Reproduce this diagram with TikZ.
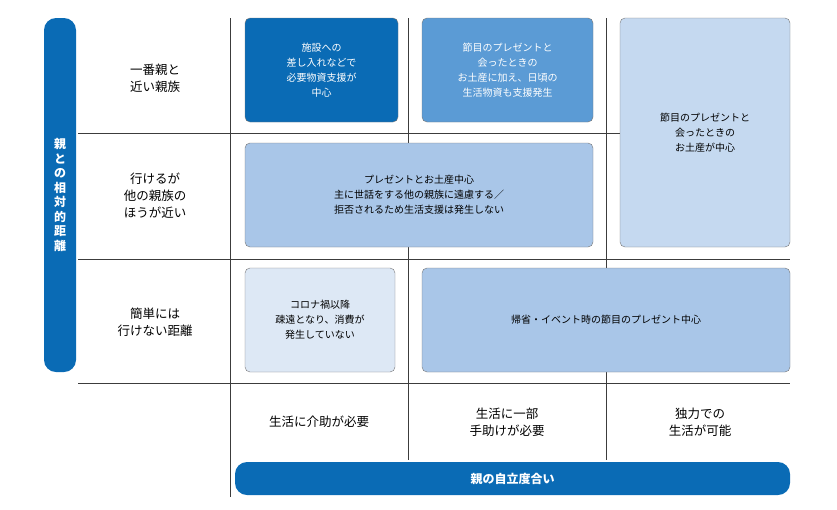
\documentclass[tikz,border=0pt]{standalone}
\usepackage{fontspec}
\setmainfont{Noto Sans CJK JP}
\definecolor{darkblue}{RGB}{10,107,181}
\definecolor{midblue}{RGB}{91,155,213}
\definecolor{paleblue}{RGB}{169,198,232}
\definecolor{lightblue}{RGB}{197,217,240}
\definecolor{faintblue}{RGB}{221,232,245}
\definecolor{gridgray}{RGB}{60,60,60}
\tikzset{
  cell/.style={draw=gridgray!70,rounded corners=5pt,align=center,font=\fontsize{10}{15}\selectfont,inner sep=0pt},
  rowlabel/.style={align=center,font=\fontsize{12.5}{17}\selectfont},
  bar/.style={fill=darkblue,rounded corners=12pt,text=white,font=\bfseries\fontsize{12}{15}\selectfont}
}
\begin{document}
\begin{tikzpicture}[x=1pt,y=-1pt]
        \useasboundingbox (0,0) rectangle (837,509);
        % grid
        \draw[gridgray] (230,18) -- (230,497);
        \draw[gridgray] (408,18) -- (408,460);
        \draw[gridgray] (606,18) -- (606,460);
        \foreach \y in {133,259,383}
          \draw[gridgray] (78,\y) -- (790,\y);

        % cells
        \node[cell,fill=darkblue,text=white,minimum width=153,minimum height=104] (care1) at (321.5,70) {施設への\\差し入れなどで\\必要物資支援が\\中心};
        \node[cell,fill=midblue,text=white,minimum width=171,minimum height=104] (help1) at (507.5,70) {節目のプレゼントと\\会ったときの\\お土産に加え、日頃の\\生活物資も支援発生};
        \node[cell,fill=lightblue,minimum width=170,minimum height=229] (self1) at (705,132.5) {節目のプレゼントと\\会ったときの\\お土産が中心};
        \node[cell,fill=paleblue,minimum width=348,minimum height=104] (row2) at (419,195) {プレゼントとお土産中心\\主に世話をする他の親族に遠慮する／\\拒否されるため生活支援は発生しない};
        \node[cell,fill=faintblue,minimum width=150,minimum height=104] (care3) at (320,320) {コロナ禍以降\\疎遠となり、消費が\\発生していない};
        \node[cell,fill=paleblue,minimum width=368,minimum height=104] (row3) at (606,320) {帰省・イベント時の節目のプレゼント中心};

        % row labels
        \node[rowlabel] (near) at (155,78) {一番親と\\近い親族};
        \node[rowlabel] (mid) at (155,196) {行けるが\\他の親族の\\ほうが近い};
        \node[rowlabel] (far) at (155,322) {簡単には\\行けない距離};

        % column labels
        \node[rowlabel] (care) at (319,422) {生活に介助が必要};
        \node[rowlabel] (help) at (507,422) {生活に一部\\手助けが必要};
        \node[rowlabel] (self) at (700,422) {独力での\\生活が可能};

        % axis bars
        \node[bar,minimum width=32,minimum height=354,inner sep=0pt] (distbar) at (60,195) {};
        \node[text=white,font=\bfseries\fontsize{12}{14.5}\selectfont,align=center] (disttext) at (distbar) {親\\と\\の\\相\\対\\的\\距\\離};
        \node[bar,minimum width=555,minimum height=33,inner sep=0pt] (selfbar) at (512.5,478.5) {親の自立度合い};
\end{tikzpicture}
\end{document}
